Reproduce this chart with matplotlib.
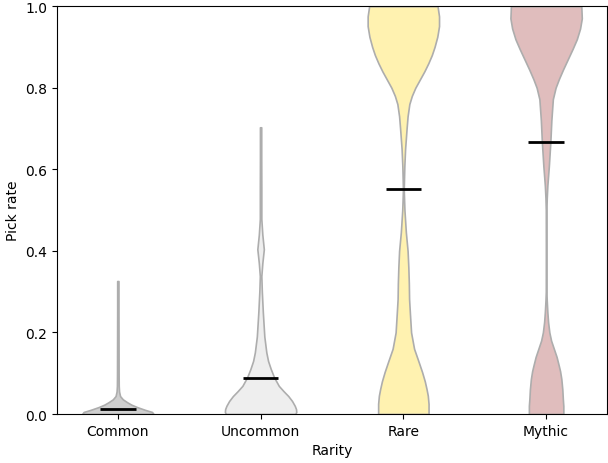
import numpy as np
import matplotlib
matplotlib.use('Agg')
import matplotlib.pyplot as plt

rarities = ['Common', 'Uncommon', 'Rare', 'Mythic']
colors = ['#cfcfcf', '#eeeeee', '#fff2b0', '#e0bdbd']
means = [0.012, 0.088, 0.551, 0.667]

# density profiles (pick rate, relative density)
common_y = [0.0, 0.005, 0.01, 0.017, 0.023, 0.029, 0.036, 0.044, 0.055,
            0.069, 0.1, 0.15, 0.25, 0.326]
common_d = [71.5, 68.5, 55, 38.5, 27, 18.5, 10, 4.5, 2.5,
            1.8, 1.6, 1.5, 1.3, 1.3]

uncommon_y = [0.0, 0.005, 0.012, 0.02, 0.032, 0.044, 0.056, 0.069, 0.09,
              0.11, 0.13, 0.151, 0.19, 0.25, 0.30, 0.338, 0.37, 0.404,
              0.44, 0.478, 0.55, 0.62, 0.703]
uncommon_d = [69.5, 71.5, 71, 68.5, 63, 55.5, 46, 36.5, 27,
              20.5, 15, 11.5, 7.5, 4.5, 2.5, 1.5, 3.5, 6.5,
              3.5, 1.5, 1.5, 1.3, 1.3]

rare_y = [0.0, 0.025, 0.045, 0.061, 0.08, 0.103, 0.13, 0.16, 0.20, 0.25,
          0.282, 0.32, 0.36, 0.40, 0.446, 0.50, 0.55, 0.608, 0.65, 0.70,
          0.73, 0.76, 0.78, 0.80, 0.82, 0.84, 0.86, 0.88, 0.90, 0.925,
          0.951, 0.975, 1.0]
rare_d = [50.5, 50.5, 49, 46.5, 43, 37.5, 30, 21.5, 15.5, 13,
          11.5, 11, 10, 8.5, 5, 2.2, 0.8, 2.0, 3.5, 6.5,
          8.5, 12, 17, 24, 33, 42, 50, 57, 62.5, 68,
          71.5, 71.5, 68.5]

mythic_y = [0.0, 0.02, 0.037, 0.06, 0.086, 0.105, 0.118, 0.14, 0.16, 0.18,
            0.2, 0.225, 0.25, 0.28, 0.30, 0.40, 0.50, 0.53, 0.56, 0.608,
            0.667, 0.72, 0.772, 0.80, 0.821, 0.845, 0.870, 0.895, 0.919,
            0.945, 0.97, 1.0]
mythic_d = [34.5, 34.5, 33.5, 32.5, 30.5, 28, 25.5, 21, 15.5, 10,
            6.5, 4, 2.5, 1.2, 0.6, 0.5, 0.6, 1.3, 2.5, 5.5,
            8.5, 10.5, 13.5, 19, 25.5, 34, 43.5, 53, 61.5,
            68, 71.5, 70.5]

profiles = [(common_y, common_d), (uncommon_y, uncommon_d),
            (rare_y, rare_d), (mythic_y, mythic_d)]

vpstats = []
for (ys, ds), m in zip(profiles, means):
    ys = np.array(ys)
    vpstats.append({'coords': ys, 'vals': np.array(ds), 'mean': m,
                    'median': m, 'min': ys.min(), 'max': ys.max()})

fig = plt.figure(figsize=(6.08, 4.64), dpi=100)
ax = fig.add_axes([0.094, 0.1056, 0.904, 0.879])

parts = ax.violin(vpstats, positions=[1, 2, 3, 4], widths=0.5,
                  showmeans=True, showextrema=False)
for body, c in zip(parts['bodies'], colors):
    body.set_facecolor(c)
    body.set_edgecolor('#adadad')
    body.set_linewidth(1.2)
    body.set_alpha(1)
parts['cmeans'].set_color('black')
parts['cmeans'].set_linewidth(2)

ax.set_ylim(0, 1)
ax.set_xticks([1, 2, 3, 4])
ax.set_xticklabels(rarities)
ax.set_xlabel('Rarity')
ax.set_ylabel('Pick rate')

fig.savefig('out.png', dpi=100)
plt.close()
